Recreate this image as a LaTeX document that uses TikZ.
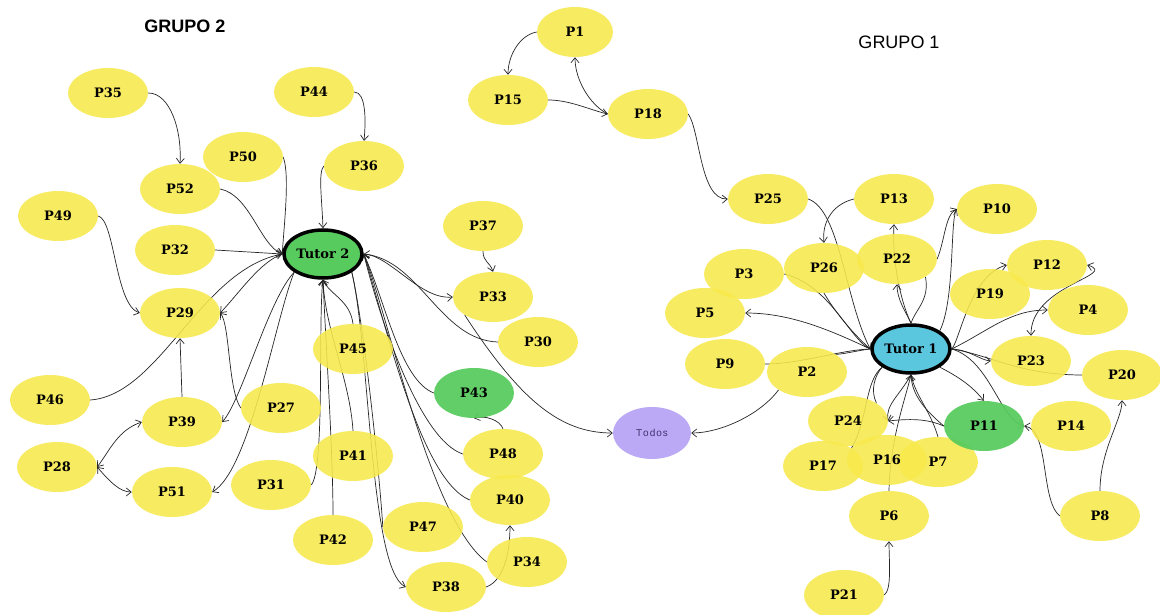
\documentclass[tikz,border=0pt]{standalone}
\usepackage{fontspec}
\setmainfont{DejaVu Serif}
\newfontfamily\titlefont{Liberation Sans}
\usetikzlibrary{shapes.geometric,arrows.meta,backgrounds}
\definecolor{pyel}{HTML}{F7E94C}
\definecolor{pgreen}{HTML}{58CB5E}
\definecolor{tcyan}{HTML}{5BC7DF}
\definecolor{tlav}{HTML}{BCA9F6}
\definecolor{ecol}{HTML}{262626}
\definecolor{todostext}{HTML}{3F3170}
\begin{document}
\begin{tikzpicture}[x=1pt,y=-1pt,
 pn/.style={ellipse, fill=pyel, fill opacity=0.88, text opacity=1, minimum width=80pt, minimum height=50pt, inner sep=0pt, font=\bfseries\fontsize{13}{13}\selectfont},
 gn/.style={pn, fill=pgreen, fill opacity=0.94},
 tn/.style={ellipse, draw=black, line width=3.5pt, minimum width=78pt, minimum height=48pt, inner sep=0pt, font=\bfseries\fontsize{13}{13}\selectfont},
 conn/.style={draw=ecol, line width=0.7pt, -{Straight Barb[length=5pt,width=8pt]}},
 bconn/.style={draw=ecol, line width=0.7pt, {Straight Barb[length=5pt,width=8pt]}-{Straight Barb[length=5pt,width=8pt]}},
 pconn/.style={draw=ecol, line width=0.7pt},
 ttl/.style={font=\titlefont\fontsize{18}{18}\selectfont}
]
\useasboundingbox (0,0) rectangle (1160,615);

% titles
\node[ttl, font=\titlefont\bfseries\fontsize{18}{18}\selectfont] (g2) at (185,26) {GRUPO 2};
\node[ttl] (g1) at (899,42) {GRUPO 1};

% ---------- group 2 ----------
\node[pn] (P35) at (108,93) {P35};
\node[pn] (P44) at (314,92) {P44};
\node[pn] (P50) at (243,157) {P50};
\node[pn] (P36) at (364,166) {P36};
\node[pn] (P52) at (180,189) {P52};
\node[pn] (P49) at (58,216) {P49};
\node[pn] (P32) at (175,250) {P32};
\node[tn, fill=pgreen] (T2) at (323,254) {Tutor 2};
\node[pn] (P37) at (483,226) {P37};
\node[pn] (P33) at (493,297) {P33};
\node[pn] (P29) at (180,313) {P29};
\node[pn] (P30) at (538,342) {P30};
\node[pn] (P45) at (353,349) {P45};
\node[pn] (P46) at (50,400) {P46};
\node[gn] (P43) at (474,393) {P43};
\node[pn] (P27) at (281,408) {P27};
\node[pn] (P39) at (182,422) {P39};
\node[pn] (P28) at (57,467) {P28};
\node[pn] (P41) at (353,456) {P41};
\node[pn] (P48) at (503,454) {P48};
\node[pn] (P31) at (271,485) {P31};
\node[pn] (P51) at (172,492) {P51};
\node[pn] (P40) at (510,500) {P40};
\node[pn] (P47) at (423,527) {P47};
\node[pn] (P42) at (333,540) {P42};
\node[pn] (P34) at (527,562) {P34};
\node[pn] (P38) at (446,587) {P38};

% ---------- group 1 ----------
\node[pn, minimum width=76pt] (P1) at (575,32) {P1};
\node[pn] (P15) at (508,100) {P15};
\node[pn] (P18) at (648,114) {P18};
\node[pn] (P25) at (768,199) {P25};
\node[pn] (P13) at (894,199) {P13};
\node[pn] (P10) at (997,209) {P10};
\node[pn] (P3) at (744,274) {P3};
\node[pn] (P26) at (824,268) {P26};
\node[pn] (P22) at (897,259) {P22};
\node[pn] (P19) at (990,294) {P19};
\node[pn] (P12) at (1047,265) {P12};
\node[pn] (P5) at (705,313) {P5};
\node[pn] (P4) at (1088,310) {P4};
\node[pn] (P23) at (1031,361) {P23};
\node[pn] (P20) at (1122,375) {P20};
\node[pn] (P9) at (725,364) {P9};
\node[pn] (P2) at (807,372) {P2};
\node[tn, fill=tcyan] (T1) at (911,349) {Tutor 1};
\node[ellipse, fill=tlav, minimum width=78pt, minimum height=52pt, inner sep=0pt, text=todostext, font=\titlefont\fontsize{10}{10}\selectfont] (Todos) at (652,433) {T\kern1pt o\kern1pt d\kern1pt o\kern1pt s};
\node[pn] (P17) at (823,466) {P17};
\node[pn] (P7) at (938,462) {P7};
\node[pn] (P24) at (848,421) {P24};
\node[pn] (P16) at (887,460) {P16};
\node[gn] (P11) at (984,426) {P11};
\node[pn] (P14) at (1071,426) {P14};
\node[pn] (P6) at (889,516) {P6};
\node[pn] (P8) at (1100,516) {P8};
\node[pn] (P21) at (844,595) {P21};

\begin{scope}[on background layer]
\fill[white] (0,0) rectangle (1160,615);
% ----- group 2 edges -----
\draw[conn] (P35.east) .. controls (170,93) and (182,130) .. (P52.north);
\draw[conn] (P44.east) .. controls (366,92) and (366,120) .. (P36.north);
\draw[conn] (P50.east) .. controls (290,175) and (284,225) .. (T2.west);
\draw[conn] (P36.west) .. controls (318,172) and (322,200) .. (T2.north);
\draw[conn] (P52.east) .. controls (250,195) and (260,245) .. (T2.west);
\draw[conn] (P32.east) -- (T2.west);
\draw[conn] (P49.east) .. controls (115,220) and (115,305) .. (P29.west);
\draw[conn] (T2.west) .. controls (260,262) and (240,292) .. (P29.east);
\draw[conn] (P27.west) .. controls (228,390) and (230,325) .. (P29.east);
\draw[conn] (P46.east) .. controls (160,395) and (200,270) .. (T2.west);
\draw[conn] (P39.north) -- (P29.south);
\draw[conn] (T2.south west) .. controls (268,300) and (242,400) .. (P39.east);
\draw[conn] (T2.south west) .. controls (275,320) and (250,470) .. (P51.east);
\draw[bconn] (P28.east) .. controls (110,450) and (118,430) .. (P39.west);
\draw[bconn] (P28.east) .. controls (110,482) and (120,492) .. (P51.west);
\draw[conn] (P31.east) .. controls (325,470) and (318,320) .. (T2.south);
\draw[conn] (P45.north) .. controls (350,300) and (330,295) .. (T2.south);
\draw[conn] (P41.north) .. controls (350,380) and (325,330) .. (T2.south);
\draw[conn] (P42.north) .. controls (333,450) and (325,330) .. (T2.south);
\draw[conn] (T2.south east) .. controls (370,350) and (370,570) .. (P38.west);
\draw[pconn] (P47.west) .. controls (380,480) and (365,330) .. (T2.south east);
\draw[conn] (P48.west) .. controls (420,440) and (380,320) .. (T2.east);
\draw[conn] (P40.west) .. controls (420,480) and (385,320) .. (T2.east);
\draw[conn] (P34.west) .. controls (430,520) and (390,320) .. (T2.east);
\draw[conn] (P43.west) .. controls (400,380) and (385,300) .. (T2.east);
\draw[conn] (P48.north) .. controls (500,420) and (485,415) .. (P43.south);
\draw[conn] (P38.east) .. controls (505,580) and (510,550) .. (P40.south);
\draw[conn] (T2.east) .. controls (390,255) and (420,300) .. (P33.west);
\draw[conn] (P30.west) .. controls (440,340) and (420,260) .. (T2.east);
\draw[conn] (P37.south) .. controls (483,262) and (490,262) .. (P33.north);
\draw[conn] (P33.south west) .. controls (520,400) and (560,433) .. (Todos.west);
% ----- group 1 edges -----
\draw[conn] (P1.west) .. controls (520,35) and (508,55) .. (P15.north);
\draw[conn] (P15.east) .. controls (570,100) and (590,110) .. (P18.west);
\draw[conn] (P18.west) .. controls (590,105) and (575,80) .. (P1.south);
\draw[conn] (P18.east) .. controls (700,130) and (700,200) .. (P25.west);
\draw[conn] (P25.east) .. controls (840,210) and (845,300) .. (T1.west);
\draw[conn] (P13.west) .. controls (830,205) and (822,225) .. (P26.north);
\draw[conn] (T1.north) .. controls (900,300) and (892,260) .. (P13.south);
\draw[conn] (T1.north) .. controls (906,312) and (897,300) .. (P22.south);
\draw[pconn] (P22.south east) .. controls (930,300) and (915,310) .. (T1.north);
\draw[conn] (T1.north east) .. controls (955,300) and (950,220) .. (P10.west);
\draw[conn] (P22.east) .. controls (945,240) and (945,215) .. (P10.west);
\draw[conn] (T1.east) .. controls (960,340) and (970,275) .. (P12.west);
\draw[bconn] (P12.east) .. controls (1120,275) and (1030,285) .. (P23.north);
\draw[conn] (T1.east) .. controls (990,330) and (1010,310) .. (P4.west);
\draw[conn] (T1.west) .. controls (830,330) and (790,313) .. (P5.east);
\draw[pconn] (P3.east) .. controls (830,285) and (850,340) .. (T1.west);
\draw[pconn] (P26.south) .. controls (840,320) and (860,340) .. (T1.west);
\draw[pconn] (P9.east) .. controls (800,364) and (840,350) .. (T1.west);
\draw[conn] (P2.south west) .. controls (760,415) and (720,433) .. (Todos.east);
\draw[pconn] (P2.north east) .. controls (840,355) and (860,350) .. (T1.west);
\draw[conn] (T1.east) .. controls (970,350) and (980,360) .. (P23.west);
\draw[pconn] (P20.west) .. controls (1020,375) and (990,355) .. (T1.east);
\draw[conn] (T1.south east) .. controls (965,380) and (975,390) .. (P11.north);
\draw[conn] (T1.east) .. controls (990,360) and (1000,420) .. (P11.east);
\draw[conn] (P8.west) .. controls (1040,500) and (1050,430) .. (P11.east);
\draw[conn] (P8.north) .. controls (1100,450) and (1122,420) .. (P20.south);
\draw[conn] (P21.east) .. controls (892,590) and (889,560) .. (P6.south);
\draw[conn] (P6.north) .. controls (890,440) and (905,400) .. (T1.south);
\draw[conn] (T1.south) .. controls (900,395) and (885,405) .. (P24.east);
\draw[conn] (P11.west) .. controls (930,420) and (915,418) .. (P24.east);
\draw[conn] (P11.west) .. controls (925,410) and (912,395) .. (T1.south);
\draw[pconn] (P7.north) .. controls (930,410) and (915,395) .. (T1.south);
\draw[pconn] (P17.north east) .. controls (868,420) and (865,380) .. (T1.south west);
\draw[pconn] (P24.north east) .. controls (870,390) and (875,375) .. (T1.south west);
\end{scope}
\end{tikzpicture}
\end{document}
